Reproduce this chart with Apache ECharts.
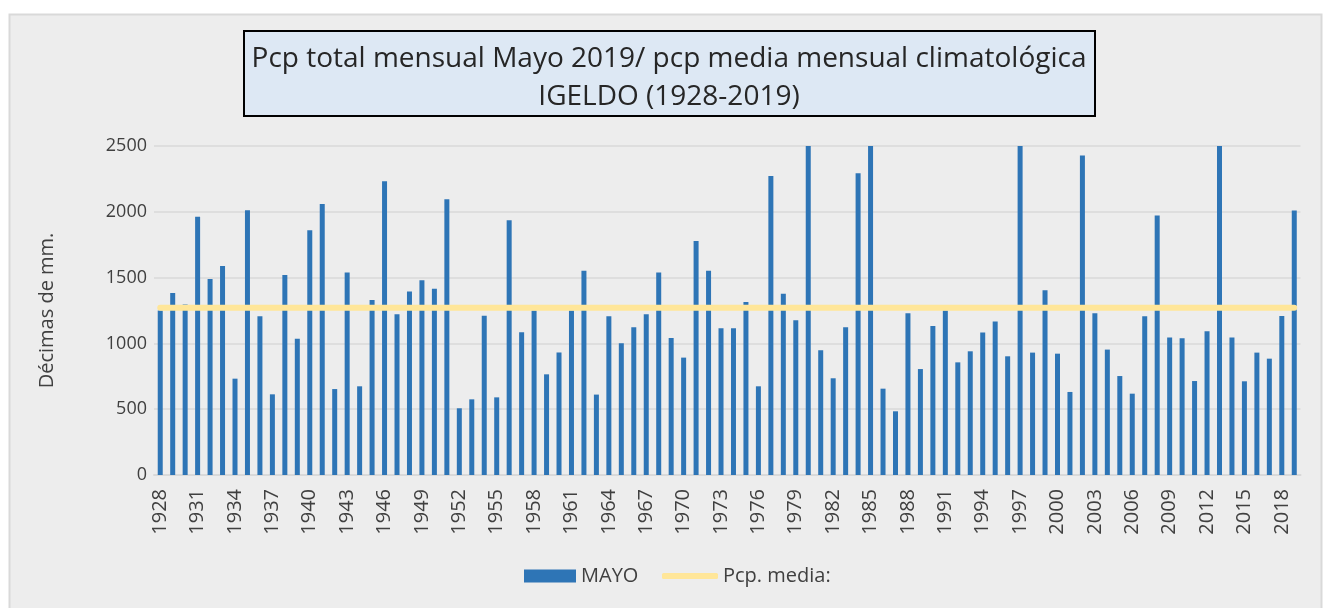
<!DOCTYPE html>
<html>
<head>
<meta charset="utf-8">
<script src="https://cdn.jsdelivr.net/npm/echarts@6/dist/echarts.min.js"></script>
<style>
  html, body { margin: 0; padding: 0; background: #ffffff; }
  #chart { width: 1324px; height: 608px; }
</style>
</head>
<body>
<div id="chart"></div>
<script>
// años 1928-2019
const years = []
for (let y = 1928; y <= 2019; y++) years.push(String(y))

// pcp total de mayo (décimas de mm); las barras que se salen se cortan en 2500
const mayo = [
  1250, 1383, 1295, 1963, 1489, 1588, 732, 2011, 1206, 613,
  1520, 1036, 1859, 2059, 653, 1538, 674, 1330, 2232, 1221,
  1394, 1479, 1416, 2095, 507, 575, 1211, 590, 1935, 1084,
  1250, 765, 931, 1250, 1553, 611, 1206, 1001, 1122, 1221,
  1538, 1041, 892, 1778, 1553, 1115, 1115, 1315, 674, 2272,
  1378, 1176, 2500, 948, 735, 1122, 2293, 2500, 656, 484,
  1229, 805, 1132, 1250, 856, 940, 1082, 1166, 902, 2500,
  930, 1403, 922, 631, 2427, 1229, 953, 752, 618, 1206,
  1971, 1044, 1039, 714, 1092, 2500, 1044, 712, 930, 884,
  1208, 2009
]

// pcp media mensual climatológica
const pcpMedia = 1270
const mediaLine = years.map(() => pcpMedia)

const yTicks = [0, 500, 1000, 1500, 2000, 2500]

const chart = echarts.init(document.getElementById('chart'))
const font = '"Open Sans", "Noto Sans", sans-serif'
const legendText = { fontFamily: font, fontSize: 20, color: '#404040' }

chart.setOption({
  animation: false,
  textStyle: { fontFamily: font },
  graphic: [
    {
      type: 'rect',
      z: -10,
      shape: { x: 9.5, y: 14.5, width: 1312, height: 600 },
      style: { fill: '#ededed', stroke: '#d9d9d9', lineWidth: 2 },
    },
    {
      type: 'rect',
      z: 0,
      shape: { x: 244, y: 31, width: 851, height: 85 },
      style: { fill: '#dde8f4', stroke: '#000000', lineWidth: 2 },
    },
  ],
  title: {
    text: 'Pcp total mensual Mayo 2019/ pcp media mensual climatológica\nIGELDO (1928-2019)',
    left: 669,
    top: 40,
    textAlign: 'center',
    z: 5,
    padding: 0,
    textStyle: {
      fontFamily: font,
      fontSize: 28,
      lineHeight: 38,
      fontWeight: 'normal',
      color: '#262626',
    },
  },
  legend: [
    {
      left: 524,
      top: 566,
      padding: 0,
      itemWidth: 52,
      itemHeight: 13,
      textStyle: legendText,
      data: [{ name: 'MAYO', icon: 'rect' }],
    },
    {
      left: 662,
      top: 566,
      padding: 0,
      itemWidth: 56,
      itemHeight: 6,
      textStyle: legendText,
      data: [{ name: 'Pcp. media:', icon: 'roundRect' }],
    },
  ],
  grid: { left: 154, right: 23.5, top: 146, bottom: 133, containLabel: false },
  xAxis: {
    type: 'category',
    data: years,
    axisTick: { show: false },
    axisLine: { lineStyle: { color: '#d9d9d9', width: 2 } },
    axisLabel: {
      interval: 2,
      rotate: 90,
      margin: 14,
      fontSize: 20,
      color: '#404040',
      fontFamily: font,
    },
  },
  yAxis: {
    type: 'value',
    min: yTicks[0],
    max: yTicks[yTicks.length - 1],
    interval: 500,
    name: 'Décimas de mm.',
    nameLocation: 'middle',
    nameGap: 97,
    nameTextStyle: { fontFamily: font, fontSize: 20, color: '#404040' },
    axisLine: { show: false },
    axisTick: { show: false },
    axisLabel: {
      fontSize: 18,
      color: '#404040',
      margin: 7,
      fontFamily: font,
      formatter: v => String(v),
    },
    splitLine: { lineStyle: { color: '#d9d9d9', width: 1.5 } },
  },
  series: [
    {
      name: 'MAYO',
      type: 'bar',
      data: mayo,
      barWidth: 5,
      clip: true,
      itemStyle: { color: '#2e75b6' },
    },
    {
      name: 'Pcp. media:',
      type: 'line',
      data: mediaLine,
      symbol: 'none',
      z: 3,
      lineStyle: { color: '#ffe699', width: 6, cap: 'round' },
      itemStyle: { color: '#ffe699' },
    },
  ],
})
</script>
</body>
</html>
